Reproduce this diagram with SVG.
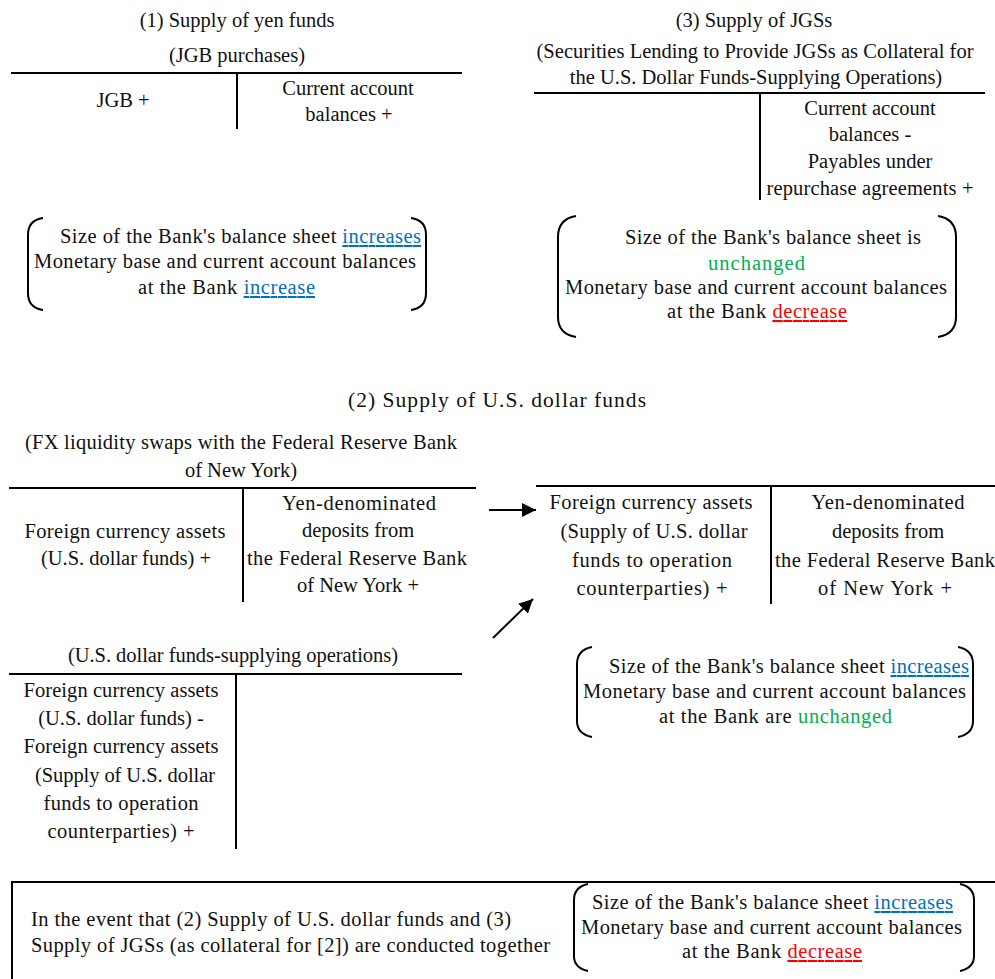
<svg xmlns="http://www.w3.org/2000/svg" width="995" height="979" viewBox="0 0 995 979">
<style>
text{font-family:"Liberation Serif","Times New Roman",serif;font-size:20.5px;fill:#111}
.c{text-anchor:middle}
.ln{stroke:#000;stroke-width:2;fill:none}
.br{stroke:#000;stroke-width:2;fill:none}
.blue{fill:#0070C0;text-decoration:underline}
.red{fill:#FF0000;text-decoration:underline}
.green{fill:#00B050}
</style>
<defs>
<marker id="ah" viewBox="0 0 10 10" refX="10" refY="5" markerWidth="14" markerHeight="14" markerUnits="userSpaceOnUse" orient="auto">
<path d="M0,0 L10,5 L0,10 z" fill="#000"/>
</marker>
</defs>
<rect width="995" height="979" fill="#fff"/>

<g id="sec1">
<text class="c" x="237" y="27">(1) Supply of yen funds</text>
<text class="c" x="237" y="62">(JGB purchases)</text>
<line class="ln" x1="11" y1="73" x2="462" y2="73"/>
<line class="ln" x1="237" y1="73" x2="237" y2="129"/>
<text class="c" x="123" y="107">JGB +</text>
<text class="c" x="348" y="95">Current account</text>
<text class="c" x="349" y="121">balances +</text>
</g>

<g id="result1">
<path class="br" d="M43,218 Q28,220 28,235 L28,293 Q28,308 43,310"/>
<path class="br" d="M411,218 Q426,220 426,235 L426,293 Q426,308 411,310"/>
<text x="60" y="243" textLength="361">Size of the Bank's balance sheet <tspan class="blue">increases</tspan></text>
<text x="34" y="268" textLength="382">Monetary base and current account balances</text>
<text x="138" y="294" textLength="177">at the Bank <tspan class="blue">increase</tspan></text>
</g>

<g id="sec3">
<text class="c" x="754" y="27">(3) Supply of JGSs</text>
<text class="c" x="755" y="58" textLength="437">(Securities Lending to Provide JGSs as Collateral for</text>
<text class="c" x="756" y="84">the U.S. Dollar Funds-Supplying Operations)</text>
<line class="ln" x1="534" y1="93" x2="985" y2="93"/>
<line class="ln" x1="760" y1="93" x2="760" y2="200"/>
<text class="c" x="870" y="115">Current account</text>
<text class="c" x="870" y="141">balances -</text>
<text class="c" x="870" y="168">Payables under</text>
<text class="c" x="870" y="195" textLength="207">repurchase agreements +</text>
</g>

<g id="result3">
<path class="br" d="M576,216 Q558,219 558,237 L558,317 Q558,334 576,337"/>
<path class="br" d="M938,216 Q956,219 956,237 L956,317 Q956,334 938,337"/>
<text x="625" y="244" textLength="296">Size of the Bank's balance sheet is</text>
<text class="green" x="708" y="270" textLength="97">unchanged</text>
<text x="565" y="294" textLength="382">Monetary base and current account balances</text>
<text x="667" y="318" textLength="180">at the Bank <tspan class="red">decrease</tspan></text>
</g>

<g id="sec2title">
<text class="c" x="497" y="407" style="font-size:21.5px" textLength="298">(2) Supply of U.S. dollar funds</text>
</g>

<g id="fxswap">
<text class="c" x="241" y="449" textLength="432">(FX liquidity swaps with the Federal Reserve Bank</text>
<text class="c" x="241" y="477">of New York)</text>
<line class="ln" x1="9" y1="488" x2="476" y2="488"/>
<line class="ln" x1="243" y1="488" x2="243" y2="602"/>
<text class="c" x="125" y="538" textLength="201">Foreign currency assets</text>
<text class="c" x="126" y="565" textLength="170">(U.S. dollar funds) +</text>
<text class="c" x="359" y="510" textLength="154">Yen-denominated</text>
<text class="c" x="358" y="537">deposits from</text>
<text class="c" x="357" y="565" textLength="220">the Federal Reserve Bank</text>
<text class="c" x="358" y="592">of New York +</text>
</g>

<g id="combined2">
<line class="ln" x1="536" y1="486" x2="995" y2="486"/>
<line class="ln" x1="771" y1="486" x2="771" y2="604"/>
<text class="c" x="651" y="509" textLength="203">Foreign currency assets</text>
<text class="c" x="654" y="538" textLength="187">(Supply of U.S. dollar</text>
<text class="c" x="652" y="567" textLength="160">funds to operation</text>
<text class="c" x="652" y="595" textLength="151">counterparties) +</text>
<text class="c" x="888" y="509" textLength="153">Yen-denominated</text>
<text class="c" x="888" y="538">deposits from</text>
<text x="775" y="567" textLength="220">the Federal Reserve Bank</text>
<text class="c" x="885" y="595" textLength="134">of New York +</text>
</g>

<g id="result2">
<path class="br" d="M592,647 Q577,650 577,664 L577,721 Q577,734 592,737"/>
<path class="br" d="M958,647 Q973,650 973,664 L973,721 Q973,734 958,737"/>
<text x="609" y="673" textLength="360">Size of the Bank's balance sheet <tspan class="blue">increases</tspan></text>
<text x="583" y="698" textLength="383">Monetary base and current account balances</text>
<text x="659" y="723" textLength="233">at the Bank are <tspan class="green">unchanged</tspan></text>
</g>

<g id="usdops">
<text class="c" x="233" y="662" textLength="330">(U.S. dollar funds-supplying operations)</text>
<line class="ln" x1="9" y1="674" x2="462" y2="674"/>
<line class="ln" x1="236" y1="674" x2="236" y2="849"/>
<text class="c" x="121" y="697" textLength="195">Foreign currency assets</text>
<text class="c" x="121" y="725">(U.S. dollar funds) -</text>
<text class="c" x="121" y="753" textLength="195">Foreign currency assets</text>
<text class="c" x="125" y="782" textLength="180">(Supply of U.S. dollar</text>
<text class="c" x="121" y="810" textLength="155">funds to operation</text>
<text class="c" x="121" y="838" textLength="147">counterparties) +</text>
</g>

<g id="connectors">
<line class="ln" x1="489" y1="510" x2="536" y2="510" marker-end="url(#ah)"/>
<line class="ln" x1="493" y1="638" x2="533" y2="599" marker-end="url(#ah)"/>
</g>

<g id="summary">
<rect x="12" y="882" width="1000" height="200" fill="none" stroke="#000" stroke-width="2"/>
<text x="31" y="926" textLength="480">In the event that (2) Supply of U.S. dollar funds and (3)</text>
<text x="31" y="952" textLength="519">Supply of JGSs  (as collateral for [2]) are conducted together</text>
<path class="br" d="M588,884 Q574,887 574,900 L574,956 Q574,968 588,971"/>
<path class="br" d="M960,884 Q974,887 974,900 L974,956 Q974,968 960,971"/>
<text x="592" y="909" textLength="361">Size of the Bank's balance sheet <tspan class="blue">increases</tspan></text>
<text x="581" y="934" textLength="381">Monetary base and current account balances</text>
<text x="682" y="958" textLength="180">at the Bank <tspan class="red">decrease</tspan></text>
</g>
</svg>
